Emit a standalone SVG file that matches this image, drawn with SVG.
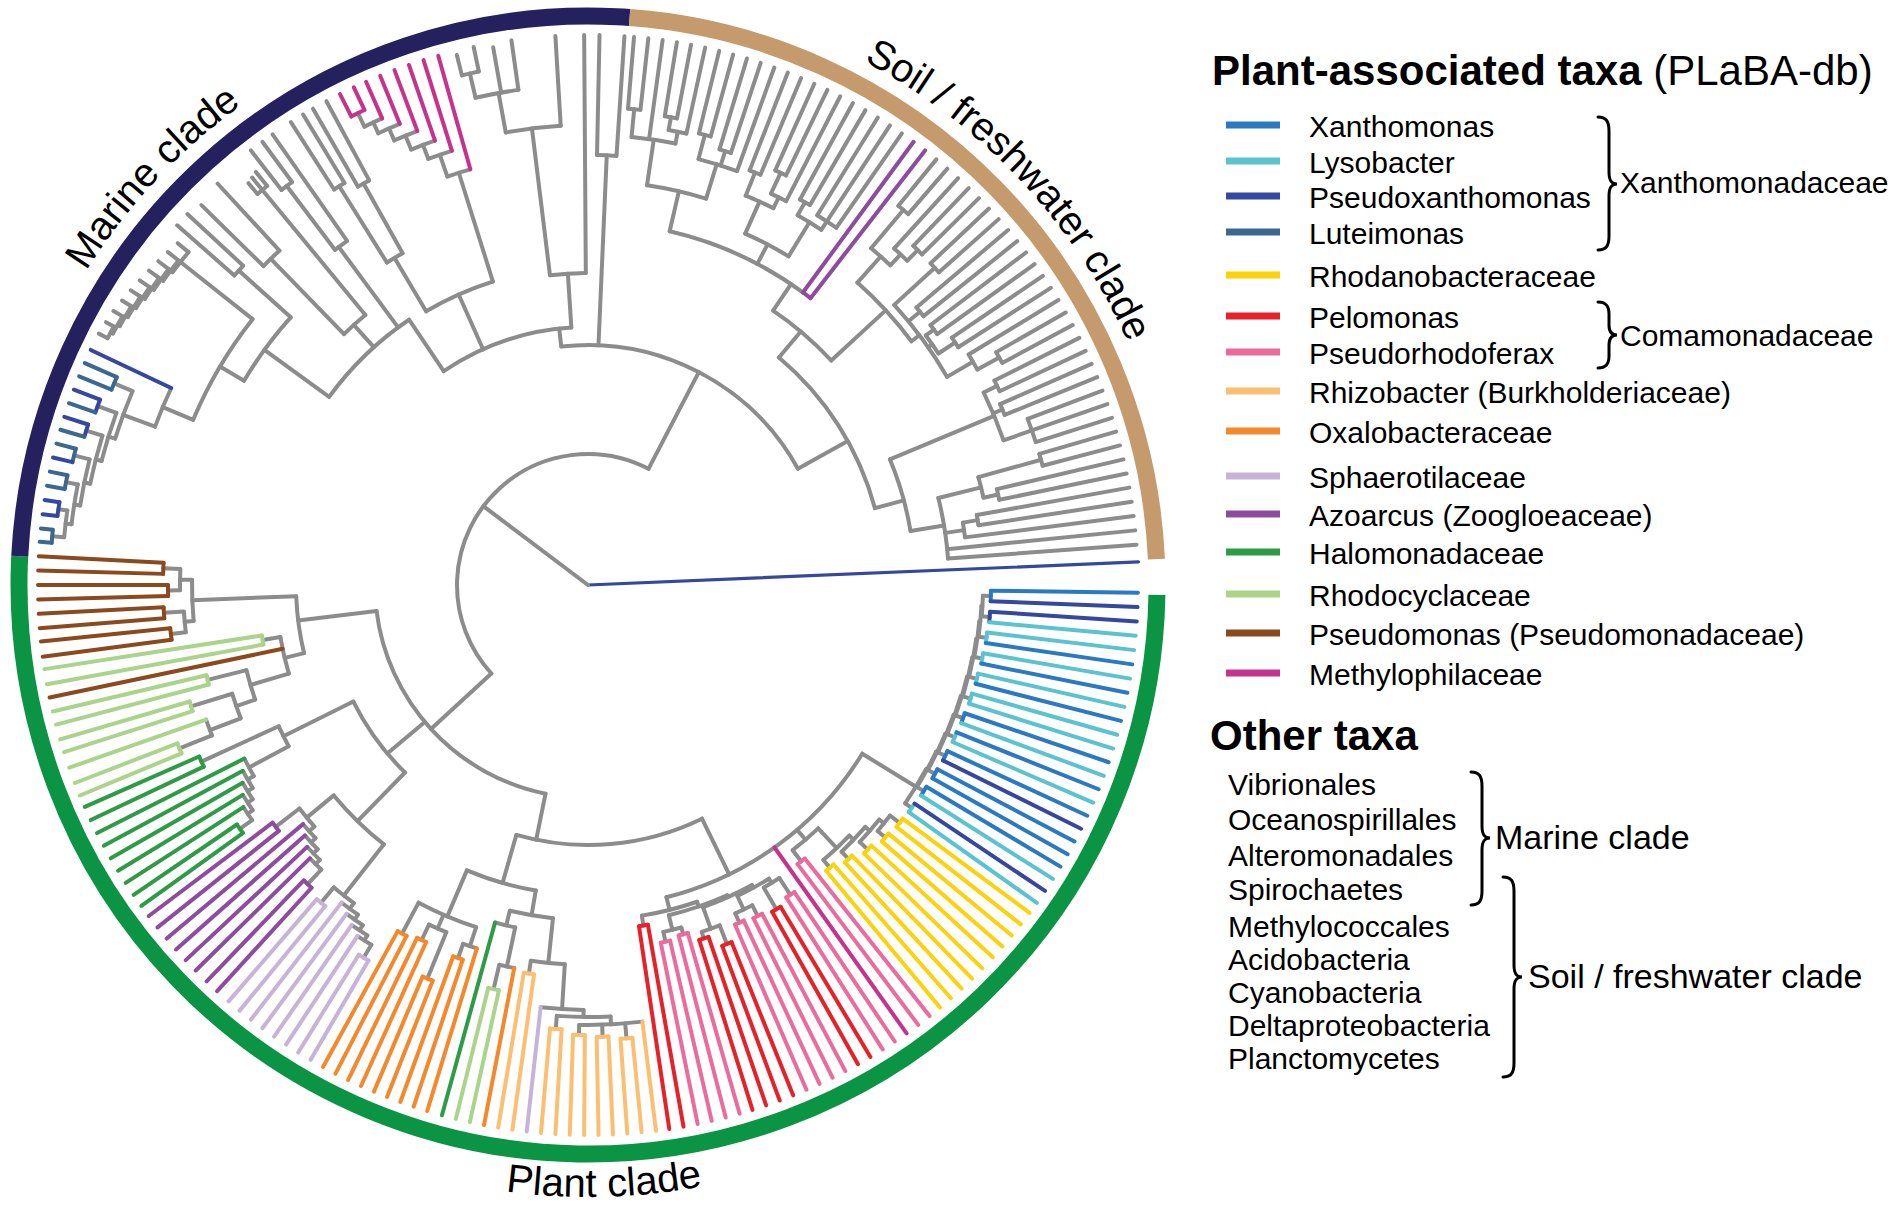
<svg xmlns="http://www.w3.org/2000/svg" width="1902" height="1218" viewBox="0 0 1902 1218">
<style>
text{font-family:"Liberation Sans",Arial,Helvetica,sans-serif;fill:#000}
.xa{stroke:#2a7ac3}.ly{stroke:#59c3d2}.px{stroke:#34489f}.lu{stroke:#3b6891}.rh{stroke:#fcd20b}.pe{stroke:#e7212a}.pr{stroke:#ec6b9d}.rz{stroke:#fcbf71}.ox{stroke:#f4882a}.sp{stroke:#c7b3d8}.az{stroke:#8e4c9e}.ha{stroke:#2e9c47}.rc{stroke:#a9d48a}.ps{stroke:#8b4a1e}.me{stroke:#c5338f}
.lg{font-size:30px}.hd{font-size:42px}.cl{font-size:40px}.bk{font-size:34px}
.brace{fill:none;stroke:#000;stroke-width:3;stroke-linecap:round}
</style>
<rect width="1902" height="1218" fill="#fff"/>
<defs>
<path id="cw" d="M592 0A592 592 0 1 1 -592 0A592 592 0 1 1 592 0"/>
<path id="ccw" d="M612 0A612 612 0 1 0 -612 0A612 612 0 1 0 612 0"/>
</defs>

<g id="ring" transform="translate(588,585)" fill="none" stroke-width="17">
<circle r="569" stroke="#0b9444" pathLength="360" stroke-dasharray="181.9 999" transform="rotate(1)"/>
<circle r="569" stroke="#25215f" pathLength="360" stroke-dasharray="91.3 999" transform="rotate(182.9)"/>
<circle r="569" stroke="#c59a6d" pathLength="360" stroke-dasharray="83.2 999" transform="rotate(274.2)"/>
</g>

<g id="tree" transform="translate(588,585)" fill="none" stroke="#8c8c8c" stroke-width="4" stroke-linecap="round">
<g id="root">
<line class="px" x1="0" x2="551" transform="rotate(-2.4)" stroke-width="3.2"/>
<line x1="0" x2="131" transform="rotate(217)"/>
<circle r="131" pathLength="360" stroke-dasharray="160 999" transform="rotate(137.5)"/>
</g>

<g id="plant-clade">
<line x1="131" x2="213" transform="rotate(137.5)"/>
<circle r="213" pathLength="360" stroke-dasharray="71.5 999" transform="rotate(101.5)"/>
<g id="pseudomonas-group">
<line x1="213" x2="292" transform="rotate(173)"/>
<circle r="292" pathLength="360" stroke-dasharray="11.3 999" transform="rotate(166.5)"/>
<line x1="292" x2="396" transform="rotate(177.8)"/>
<circle r="396" pathLength="360" stroke-dasharray="5.95 999" transform="rotate(174.8)"/>
<line x1="396" x2="408" transform="rotate(180.75)"/>
<circle r="408" pathLength="360" stroke-dasharray="3 999" transform="rotate(179.25)"/>
<line x1="408" x2="425" transform="rotate(182.25)"/>
<circle class="ps" r="425" pathLength="360" stroke-dasharray="1.5 999" transform="rotate(181.5)"/>
<line class="ps" x1="425" x2="550" transform="rotate(183)"/>
<line class="ps" x1="425" x2="550" transform="rotate(181.5)"/>
<line x1="408" x2="420" transform="rotate(179.25)"/>
<circle class="ps" r="420" pathLength="360" stroke-dasharray="1.5 999" transform="rotate(178.5)"/>
<line class="ps" x1="420" x2="550" transform="rotate(180)"/>
<line class="ps" x1="420" x2="550" transform="rotate(178.5)"/>
<line x1="396" x2="405" transform="rotate(174.8)"/>
<circle r="405" pathLength="360" stroke-dasharray="2.95 999" transform="rotate(173.3)"/>
<line x1="405" x2="425" transform="rotate(176.25)"/>
<circle class="ps" r="425" pathLength="360" stroke-dasharray="1.5 999" transform="rotate(175.5)"/>
<line class="ps" x1="425" x2="550" transform="rotate(177)"/>
<line class="ps" x1="425" x2="550" transform="rotate(175.5)"/>
<line x1="405" x2="420" transform="rotate(173.3)"/>
<circle class="ps" r="420" pathLength="360" stroke-dasharray="1.6 999" transform="rotate(172.5)"/>
<line class="ps" x1="420" x2="550" transform="rotate(174.1)"/>
<line class="ps" x1="420" x2="550" transform="rotate(172.5)"/>
<line x1="292" x2="312" transform="rotate(166.5)"/>
<circle r="312" pathLength="360" stroke-dasharray="6.9 999" transform="rotate(163.5)"/>
<line x1="312" x2="330" transform="rotate(170.4)"/>
<circle class="rc" r="330" pathLength="360" stroke-dasharray="1.6 999" transform="rotate(169.6)"/>
<line class="rc" x1="330" x2="550" transform="rotate(171.2)"/>
<line class="rc" x1="330" x2="550" transform="rotate(169.6)"/>
<line class="ps" x1="312" x2="550" transform="rotate(168.2)"/>
<line x1="312" x2="352" transform="rotate(163.5)"/>
<circle r="352" pathLength="360" stroke-dasharray="5 999" transform="rotate(161)"/>
<line x1="352" x2="392" transform="rotate(166)"/>
<circle class="rc" r="392" pathLength="360" stroke-dasharray="1.4 999" transform="rotate(165.3)"/>
<line class="rc" x1="392" x2="550" transform="rotate(166.7)"/>
<line class="rc" x1="392" x2="550" transform="rotate(165.3)"/>
<line x1="352" x2="372" transform="rotate(161)"/>
<circle r="372" pathLength="360" stroke-dasharray="4 999" transform="rotate(159)"/>
<line x1="372" x2="415" transform="rotate(163)"/>
<circle class="rc" r="415" pathLength="360" stroke-dasharray="1.4 999" transform="rotate(162.3)"/>
<line class="rc" x1="415" x2="550" transform="rotate(163.7)"/>
<line class="rc" x1="415" x2="550" transform="rotate(162.3)"/>
<line x1="372" x2="405" transform="rotate(159)"/>
<circle r="405" pathLength="360" stroke-dasharray="2.4 999" transform="rotate(158.2)"/>
<line class="rc" x1="405" x2="550" transform="rotate(160.6)"/>
<line x1="405" x2="440" transform="rotate(158.2)"/>
<circle class="rc" r="440" pathLength="360" stroke-dasharray="1.4 999" transform="rotate(157.5)"/>
<line class="rc" x1="440" x2="550" transform="rotate(158.9)"/>
<line class="rc" x1="440" x2="550" transform="rotate(157.5)"/>
</g>

<g id="halomonad-azoarcus-group">
<line x1="213" x2="262" transform="rotate(140)"/>
<circle r="262" pathLength="360" stroke-dasharray="19.3 999" transform="rotate(134.3)"/>
<line x1="262" x2="330" transform="rotate(134.3)"/>
<circle r="330" pathLength="360" stroke-dasharray="12.2 999" transform="rotate(128.2)"/>
<line x1="330" x2="365" transform="rotate(140.4)"/>
<circle r="365" pathLength="360" stroke-dasharray="3.7 999" transform="rotate(138.55)"/>
<line x1="365" x2="395" transform="rotate(142.25)"/>
<circle class="az" r="395" pathLength="360" stroke-dasharray="1.5 999" transform="rotate(141.5)"/>
<line class="az" x1="395" x2="550" transform="rotate(143)"/>
<line class="az" x1="395" x2="550" transform="rotate(141.5)"/>
<line x1="365" x2="372" transform="rotate(138.55)"/>
<circle r="372" pathLength="360" stroke-dasharray="2.9 999" transform="rotate(137.1)"/>
<line class="az" x1="372" x2="550" transform="rotate(140)"/>
<line x1="372" x2="378" transform="rotate(137.1)"/>
<circle r="378" pathLength="360" stroke-dasharray="2.85 999" transform="rotate(135.65)"/>
<line class="az" x1="378" x2="550" transform="rotate(138.5)"/>
<line x1="378" x2="384" transform="rotate(135.65)"/>
<circle r="384" pathLength="360" stroke-dasharray="2.7 999" transform="rotate(134.3)"/>
<line class="az" x1="384" x2="550" transform="rotate(137)"/>
<line x1="384" x2="390" transform="rotate(134.3)"/>
<circle r="390" pathLength="360" stroke-dasharray="2.35 999" transform="rotate(133.15)"/>
<line class="az" x1="390" x2="550" transform="rotate(135.5)"/>
<line x1="390" x2="410" transform="rotate(133.15)"/>
<circle class="az" r="410" pathLength="360" stroke-dasharray="1.5 999" transform="rotate(132.4)"/>
<line class="az" x1="410" x2="550" transform="rotate(133.9)"/>
<line class="az" x1="410" x2="550" transform="rotate(132.4)"/>
<line x1="330" x2="395" transform="rotate(128.2)"/>
<circle r="395" pathLength="360" stroke-dasharray="3.7 999" transform="rotate(126.35)"/>
<line x1="395" x2="415" transform="rotate(130.05)"/>
<circle class="sp" r="415" pathLength="360" stroke-dasharray="1.5 999" transform="rotate(129.3)"/>
<line class="sp" x1="415" x2="550" transform="rotate(130.8)"/>
<line class="sp" x1="415" x2="550" transform="rotate(129.3)"/>
<line x1="395" x2="402" transform="rotate(126.35)"/>
<circle r="402" pathLength="360" stroke-dasharray="2.9 999" transform="rotate(124.9)"/>
<line class="sp" x1="402" x2="550" transform="rotate(127.8)"/>
<line x1="402" x2="408" transform="rotate(124.9)"/>
<circle r="408" pathLength="360" stroke-dasharray="2.8 999" transform="rotate(123.5)"/>
<line class="sp" x1="408" x2="550" transform="rotate(126.3)"/>
<line x1="408" x2="414" transform="rotate(123.5)"/>
<circle r="414" pathLength="360" stroke-dasharray="2.6 999" transform="rotate(122.2)"/>
<line class="sp" x1="414" x2="550" transform="rotate(124.8)"/>
<line x1="414" x2="420" transform="rotate(122.2)"/>
<circle r="420" pathLength="360" stroke-dasharray="2.25 999" transform="rotate(121.05)"/>
<line class="sp" x1="420" x2="550" transform="rotate(123.3)"/>
<line x1="420" x2="435" transform="rotate(121.05)"/>
<circle class="sp" r="435" pathLength="360" stroke-dasharray="1.5 999" transform="rotate(120.3)"/>
<line class="sp" x1="435" x2="550" transform="rotate(121.8)"/>
<line class="sp" x1="435" x2="550" transform="rotate(120.3)"/>
<line x1="262" x2="340" transform="rotate(153.6)"/>
<circle r="340" pathLength="360" stroke-dasharray="3.75 999" transform="rotate(151.7)"/>
<line x1="340" x2="425" transform="rotate(155.45)"/>
<circle class="ha" r="425" pathLength="360" stroke-dasharray="1.5 999" transform="rotate(154.7)"/>
<line class="ha" x1="425" x2="550" transform="rotate(156.2)"/>
<line class="ha" x1="425" x2="550" transform="rotate(154.7)"/>
<line x1="340" x2="385" transform="rotate(151.7)"/>
<circle r="385" pathLength="360" stroke-dasharray="2.95 999" transform="rotate(150.25)"/>
<line class="ha" x1="385" x2="550" transform="rotate(153.2)"/>
<line x1="385" x2="392" transform="rotate(150.25)"/>
<circle r="392" pathLength="360" stroke-dasharray="2.9 999" transform="rotate(148.8)"/>
<line class="ha" x1="392" x2="550" transform="rotate(151.7)"/>
<line x1="392" x2="398" transform="rotate(148.8)"/>
<circle r="398" pathLength="360" stroke-dasharray="2.8 999" transform="rotate(147.4)"/>
<line class="ha" x1="398" x2="550" transform="rotate(150.2)"/>
<line x1="398" x2="404" transform="rotate(147.4)"/>
<circle r="404" pathLength="360" stroke-dasharray="2.6 999" transform="rotate(146.1)"/>
<line class="ha" x1="404" x2="550" transform="rotate(148.7)"/>
<line x1="404" x2="410" transform="rotate(146.1)"/>
<circle r="410" pathLength="360" stroke-dasharray="2.2 999" transform="rotate(145)"/>
<line class="ha" x1="410" x2="550" transform="rotate(147.2)"/>
<line x1="410" x2="425" transform="rotate(145)"/>
<circle class="ha" r="425" pathLength="360" stroke-dasharray="1.4 999" transform="rotate(144.3)"/>
<line class="ha" x1="425" x2="550" transform="rotate(145.7)"/>
<line class="ha" x1="425" x2="550" transform="rotate(144.3)"/>
</g>

<g id="burkholderiales-xanthomonadales-group">
<line x1="213" x2="260" transform="rotate(101.5)"/>
<circle r="260" pathLength="360" stroke-dasharray="42 999" transform="rotate(64)"/>
<line x1="260" x2="310" transform="rotate(106)"/>
<circle r="310" pathLength="360" stroke-dasharray="13.3 999" transform="rotate(99.7)"/>
<line x1="310" x2="360" transform="rotate(113)"/>
<circle r="360" pathLength="360" stroke-dasharray="9.97 999" transform="rotate(108.1)"/>
<line x1="360" x2="395" transform="rotate(118.07)"/>
<circle class="ox" r="395" pathLength="360" stroke-dasharray="1.47 999" transform="rotate(117.33)"/>
<line class="ox" x1="395" x2="550" transform="rotate(118.8)"/>
<line class="ox" x1="395" x2="550" transform="rotate(117.33)"/>
<line x1="360" x2="375" transform="rotate(113.65)"/>
<circle r="375" pathLength="360" stroke-dasharray="2.9 999" transform="rotate(112.2)"/>
<line x1="375" x2="392" transform="rotate(115.1)"/>
<circle class="ox" r="392" pathLength="360" stroke-dasharray="1.47 999" transform="rotate(114.38)"/>
<line class="ox" x1="392" x2="550" transform="rotate(115.85)"/>
<line class="ox" x1="392" x2="550" transform="rotate(114.38)"/>
<line x1="375" x2="425" transform="rotate(112.2)"/>
<circle class="ox" r="425" pathLength="360" stroke-dasharray="1.47 999" transform="rotate(111.43)"/>
<line class="ox" x1="425" x2="550" transform="rotate(112.9)"/>
<line class="ox" x1="425" x2="550" transform="rotate(111.43)"/>
<line x1="360" x2="380" transform="rotate(108.1)"/>
<circle r="380" pathLength="360" stroke-dasharray="2.2 999" transform="rotate(107)"/>
<line x1="380" x2="395" transform="rotate(109.2)"/>
<circle class="ox" r="395" pathLength="360" stroke-dasharray="1.47 999" transform="rotate(108.48)"/>
<line class="ox" x1="395" x2="550" transform="rotate(109.95)"/>
<line class="ox" x1="395" x2="550" transform="rotate(108.48)"/>
<line class="ox" x1="380" x2="550" transform="rotate(107)"/>
<line x1="310" x2="335" transform="rotate(99.7)"/>
<circle r="335" pathLength="360" stroke-dasharray="7.5 999" transform="rotate(96)"/>
<line x1="335" x2="350" transform="rotate(103.5)"/>
<circle r="350" pathLength="360" stroke-dasharray="3.4 999" transform="rotate(102)"/>
<line class="ha" x1="350" x2="550" transform="rotate(105.4)"/>
<line x1="350" x2="390" transform="rotate(102)"/>
<circle r="390" pathLength="360" stroke-dasharray="2.25 999" transform="rotate(100.9)"/>
<line x1="390" x2="415" transform="rotate(103.15)"/>
<circle class="rc" r="415" pathLength="360" stroke-dasharray="1.5 999" transform="rotate(102.4)"/>
<line class="rc" x1="415" x2="550" transform="rotate(103.9)"/>
<line class="rc" x1="415" x2="550" transform="rotate(102.4)"/>
<line class="ox" x1="390" x2="550" transform="rotate(100.9)"/>
<line x1="335" x2="380" transform="rotate(96)"/>
<circle r="380" pathLength="360" stroke-dasharray="5.15 999" transform="rotate(93.5)"/>
<line x1="380" x2="393" transform="rotate(98.65)"/>
<circle class="rz" r="393" pathLength="360" stroke-dasharray="1.5 999" transform="rotate(97.9)"/>
<line class="rz" x1="393" x2="550" transform="rotate(99.4)"/>
<line class="rz" x1="393" x2="550" transform="rotate(97.9)"/>
<line x1="380" x2="425" transform="rotate(93.5)"/>
<circle r="425" pathLength="360" stroke-dasharray="5.8 999" transform="rotate(90.6)"/>
<line class="sp" x1="425" x2="550" transform="rotate(96.4)"/>
<line x1="425" x2="432" transform="rotate(90.6)"/>
<circle r="432" pathLength="360" stroke-dasharray="7.15 999" transform="rotate(87)"/>
<line x1="432" x2="445" transform="rotate(94.15)"/>
<circle class="rz" r="445" pathLength="360" stroke-dasharray="1.5 999" transform="rotate(93.4)"/>
<line class="rz" x1="445" x2="550" transform="rotate(94.9)"/>
<line class="rz" x1="445" x2="550" transform="rotate(93.4)"/>
<line x1="432" x2="440" transform="rotate(87)"/>
<circle r="440" pathLength="360" stroke-dasharray="8.25 999" transform="rotate(82.9)"/>
<line x1="440" x2="450" transform="rotate(91.15)"/>
<circle class="rz" r="450" pathLength="360" stroke-dasharray="1.5 999" transform="rotate(90.4)"/>
<line class="rz" x1="450" x2="550" transform="rotate(91.9)"/>
<line class="rz" x1="450" x2="550" transform="rotate(90.4)"/>
<line x1="440" x2="452" transform="rotate(88.15)"/>
<circle class="rz" r="452" pathLength="360" stroke-dasharray="1.5 999" transform="rotate(87.4)"/>
<line class="rz" x1="452" x2="550" transform="rotate(88.9)"/>
<line class="rz" x1="452" x2="550" transform="rotate(87.4)"/>
<line x1="440" x2="455" transform="rotate(85.15)"/>
<circle class="rz" r="455" pathLength="360" stroke-dasharray="1.5 999" transform="rotate(84.4)"/>
<line class="rz" x1="455" x2="550" transform="rotate(85.9)"/>
<line class="rz" x1="455" x2="550" transform="rotate(84.4)"/>
<line class="rz" x1="440" x2="550" transform="rotate(82.9)"/>

<line x1="260" x2="322" transform="rotate(64)"/>
<circle r="322" pathLength="360" stroke-dasharray="44.3 999" transform="rotate(31.6)"/>
<line x1="322" x2="335" transform="rotate(75.9)"/>
<circle r="335" pathLength="360" stroke-dasharray="9.75 999" transform="rotate(71)"/>
<line x1="335" x2="345" transform="rotate(80.75)"/>
<circle class="pe" r="345" pathLength="360" stroke-dasharray="1.5 999" transform="rotate(80)"/>
<line class="pe" x1="345" x2="550" transform="rotate(81.5)"/>
<line class="pe" x1="345" x2="550" transform="rotate(80)"/>
<line x1="335" x2="340" transform="rotate(71)"/>
<circle r="340" pathLength="360" stroke-dasharray="10.4 999" transform="rotate(65.85)"/>
<line x1="340" x2="355" transform="rotate(76.25)"/>
<circle r="355" pathLength="360" stroke-dasharray="3 999" transform="rotate(74.75)"/>
<line x1="355" x2="365" transform="rotate(77.75)"/>
<circle class="pr" r="365" pathLength="360" stroke-dasharray="1.5 999" transform="rotate(77)"/>
<line class="pr" x1="365" x2="550" transform="rotate(78.5)"/>
<line class="pr" x1="365" x2="550" transform="rotate(77)"/>
<line x1="355" x2="362" transform="rotate(74.75)"/>
<circle class="pr" r="362" pathLength="360" stroke-dasharray="1.5 999" transform="rotate(74)"/>
<line class="pr" x1="362" x2="550" transform="rotate(75.5)"/>
<line class="pr" x1="362" x2="550" transform="rotate(74)"/>
<line x1="340" x2="342" transform="rotate(65.85)"/>
<circle r="342" pathLength="360" stroke-dasharray="9 999" transform="rotate(61.35)"/>
<line x1="342" x2="365" transform="rotate(70.35)"/>
<circle r="365" pathLength="360" stroke-dasharray="3 999" transform="rotate(68.85)"/>
<line x1="365" x2="372" transform="rotate(71.85)"/>
<circle class="pe" r="372" pathLength="360" stroke-dasharray="1.5 999" transform="rotate(71.1)"/>
<line class="pe" x1="372" x2="550" transform="rotate(72.6)"/>
<line class="pe" x1="372" x2="550" transform="rotate(71.1)"/>
<line x1="365" x2="385" transform="rotate(68.85)"/>
<circle class="pe" r="385" pathLength="360" stroke-dasharray="1.5 999" transform="rotate(68.1)"/>
<line class="pe" x1="385" x2="550" transform="rotate(69.6)"/>
<line class="pe" x1="385" x2="550" transform="rotate(68.1)"/>
<line x1="342" x2="345" transform="rotate(61.35)"/>
<circle r="345" pathLength="360" stroke-dasharray="6 999" transform="rotate(58.35)"/>
<line x1="345" x2="360" transform="rotate(64.35)"/>
<circle r="360" pathLength="360" stroke-dasharray="3 999" transform="rotate(62.85)"/>
<line x1="360" x2="370" transform="rotate(65.85)"/>
<circle class="pr" r="370" pathLength="360" stroke-dasharray="1.5 999" transform="rotate(65.1)"/>
<line class="pr" x1="370" x2="550" transform="rotate(66.6)"/>
<line class="pr" x1="370" x2="550" transform="rotate(65.1)"/>
<line x1="360" x2="372" transform="rotate(62.85)"/>
<circle class="pr" r="372" pathLength="360" stroke-dasharray="1.5 999" transform="rotate(62.1)"/>
<line class="pr" x1="372" x2="550" transform="rotate(63.6)"/>
<line class="pr" x1="372" x2="550" transform="rotate(62.1)"/>
<line x1="345" x2="350" transform="rotate(58.35)"/>
<circle r="350" pathLength="360" stroke-dasharray="3 999" transform="rotate(56.85)"/>
<line x1="350" x2="375" transform="rotate(59.85)"/>
<circle class="pe" r="375" pathLength="360" stroke-dasharray="1.5 999" transform="rotate(59.1)"/>
<line class="pe" x1="375" x2="550" transform="rotate(60.6)"/>
<line class="pe" x1="375" x2="550" transform="rotate(59.1)"/>
<line x1="350" x2="370" transform="rotate(56.85)"/>
<circle class="pr" r="370" pathLength="360" stroke-dasharray="1.5 999" transform="rotate(56.1)"/>
<line class="pr" x1="370" x2="550" transform="rotate(57.6)"/>
<line class="pr" x1="370" x2="550" transform="rotate(56.1)"/>
<line class="me" x1="322" x2="550" transform="rotate(54.6)"/>
<line x1="322" x2="335" transform="rotate(49.5)"/>
<circle r="335" pathLength="360" stroke-dasharray="5.75 999" transform="rotate(46.6)"/>
<line x1="335" x2="349" transform="rotate(52.35)"/>
<circle class="pr" r="349" pathLength="360" stroke-dasharray="1.5 999" transform="rotate(51.6)"/>
<line class="pr" x1="349" x2="550" transform="rotate(53.1)"/>
<line class="pr" x1="349" x2="550" transform="rotate(51.6)"/>
<line x1="335" x2="362" transform="rotate(46.6)"/>
<circle r="362" pathLength="360" stroke-dasharray="5.65 999" transform="rotate(43.8)"/>
<line x1="362" x2="372" transform="rotate(49.45)"/>
<circle class="rh" r="372" pathLength="360" stroke-dasharray="1.5 999" transform="rotate(48.7)"/>
<line class="rh" x1="372" x2="550" transform="rotate(50.2)"/>
<line class="rh" x1="372" x2="550" transform="rotate(48.7)"/>
<line x1="362" x2="368" transform="rotate(43.8)"/>
<circle r="368" pathLength="360" stroke-dasharray="5.35 999" transform="rotate(41.1)"/>
<line x1="368" x2="378" transform="rotate(46.45)"/>
<circle class="rh" r="378" pathLength="360" stroke-dasharray="1.5 999" transform="rotate(45.7)"/>
<line class="rh" x1="378" x2="550" transform="rotate(47.2)"/>
<line class="rh" x1="378" x2="550" transform="rotate(45.7)"/>
<line x1="368" x2="374" transform="rotate(41.1)"/>
<circle r="374" pathLength="360" stroke-dasharray="4.55 999" transform="rotate(38.85)"/>
<line x1="374" x2="385" transform="rotate(43.4)"/>
<circle class="rh" r="385" pathLength="360" stroke-dasharray="1.6 999" transform="rotate(42.6)"/>
<line class="rh" x1="385" x2="550" transform="rotate(44.2)"/>
<line class="rh" x1="385" x2="550" transform="rotate(42.6)"/>
<line x1="374" x2="380" transform="rotate(38.85)"/>
<circle r="380" pathLength="360" stroke-dasharray="3 999" transform="rotate(37.35)"/>
<line x1="380" x2="390" transform="rotate(40.35)"/>
<circle class="rh" r="390" pathLength="360" stroke-dasharray="1.5 999" transform="rotate(39.6)"/>
<line class="rh" x1="390" x2="550" transform="rotate(41.1)"/>
<line class="rh" x1="390" x2="550" transform="rotate(39.6)"/>
<line x1="380" x2="392" transform="rotate(37.35)"/>
<circle class="rh" r="392" pathLength="360" stroke-dasharray="1.5 999" transform="rotate(36.6)"/>
<line class="rh" x1="392" x2="550" transform="rotate(38.1)"/>
<line class="rh" x1="392" x2="550" transform="rotate(36.6)"/>

<line x1="322" x2="385" transform="rotate(31.6)"/>
<circle r="385" pathLength="360" stroke-dasharray="5.95 999" transform="rotate(28.6)"/>
<line x1="385" x2="393" transform="rotate(34.55)"/>
<circle class="ly" r="393" pathLength="360" stroke-dasharray="1.5 999" transform="rotate(33.8)"/>
<line class="ly" x1="393" x2="550" transform="rotate(35.3)"/>
<line class="px" x1="393" x2="550" transform="rotate(33.8)"/>
<line x1="385" x2="386" transform="rotate(28.6)"/>
<circle r="386" pathLength="360" stroke-dasharray="5.95 999" transform="rotate(25.6)"/>
<line x1="386" x2="394" transform="rotate(31.55)"/>
<circle class="xa" r="394" pathLength="360" stroke-dasharray="1.5 999" transform="rotate(30.8)"/>
<line class="ly" x1="394" x2="550" transform="rotate(32.3)"/>
<line class="xa" x1="394" x2="550" transform="rotate(30.8)"/>
<line x1="386" x2="387" transform="rotate(25.6)"/>
<circle r="387" pathLength="360" stroke-dasharray="5.95 999" transform="rotate(22.6)"/>
<line x1="387" x2="395" transform="rotate(28.55)"/>
<circle class="xa" r="395" pathLength="360" stroke-dasharray="1.5 999" transform="rotate(27.8)"/>
<line class="xa" x1="395" x2="550" transform="rotate(29.3)"/>
<line class="xa" x1="395" x2="550" transform="rotate(27.8)"/>
<line x1="387" x2="388" transform="rotate(22.6)"/>
<circle r="388" pathLength="360" stroke-dasharray="5.95 999" transform="rotate(19.6)"/>
<line x1="388" x2="396" transform="rotate(25.55)"/>
<circle class="xa" r="396" pathLength="360" stroke-dasharray="1.5 999" transform="rotate(24.8)"/>
<line class="px" x1="396" x2="550" transform="rotate(26.3)"/>
<line class="xa" x1="396" x2="550" transform="rotate(24.8)"/>
<line x1="388" x2="389" transform="rotate(19.6)"/>
<circle r="389" pathLength="360" stroke-dasharray="5.95 999" transform="rotate(16.6)"/>
<line x1="389" x2="397" transform="rotate(22.55)"/>
<circle class="ly" r="397" pathLength="360" stroke-dasharray="1.5 999" transform="rotate(21.8)"/>
<line class="ly" x1="397" x2="550" transform="rotate(23.3)"/>
<line class="xa" x1="397" x2="550" transform="rotate(21.8)"/>
<line x1="389" x2="390" transform="rotate(16.6)"/>
<circle r="390" pathLength="360" stroke-dasharray="5.95 999" transform="rotate(13.6)"/>
<line x1="390" x2="398" transform="rotate(19.55)"/>
<circle class="xa" r="398" pathLength="360" stroke-dasharray="1.5 999" transform="rotate(18.8)"/>
<line class="ly" x1="398" x2="550" transform="rotate(20.3)"/>
<line class="xa" x1="398" x2="550" transform="rotate(18.8)"/>
<line x1="390" x2="391" transform="rotate(13.6)"/>
<circle r="391" pathLength="360" stroke-dasharray="5.85 999" transform="rotate(10.7)"/>
<line x1="391" x2="399" transform="rotate(16.55)"/>
<circle class="ly" r="399" pathLength="360" stroke-dasharray="1.5 999" transform="rotate(15.8)"/>
<line class="ly" x1="399" x2="550" transform="rotate(17.3)"/>
<line class="ly" x1="399" x2="550" transform="rotate(15.8)"/>
<line x1="391" x2="392" transform="rotate(10.7)"/>
<circle r="392" pathLength="360" stroke-dasharray="5.65 999" transform="rotate(7.9)"/>
<line x1="392" x2="400" transform="rotate(13.55)"/>
<circle class="ly" r="400" pathLength="360" stroke-dasharray="1.5 999" transform="rotate(12.8)"/>
<line class="xa" x1="400" x2="550" transform="rotate(14.3)"/>
<line class="ly" x1="400" x2="550" transform="rotate(12.8)"/>
<line x1="392" x2="393" transform="rotate(7.9)"/>
<circle r="393" pathLength="360" stroke-dasharray="5.25 999" transform="rotate(5.3)"/>
<line x1="393" x2="401" transform="rotate(10.55)"/>
<circle class="ly" r="401" pathLength="360" stroke-dasharray="1.5 999" transform="rotate(9.8)"/>
<line class="xa" x1="401" x2="550" transform="rotate(11.3)"/>
<line class="ly" x1="401" x2="550" transform="rotate(9.8)"/>
<line x1="393" x2="394" transform="rotate(5.3)"/>
<circle r="394" pathLength="360" stroke-dasharray="4.5 999" transform="rotate(3.05)"/>
<line x1="394" x2="402" transform="rotate(7.55)"/>
<circle class="ly" r="402" pathLength="360" stroke-dasharray="1.5 999" transform="rotate(6.8)"/>
<line class="xa" x1="402" x2="550" transform="rotate(8.3)"/>
<line class="ly" x1="402" x2="550" transform="rotate(6.8)"/>
<line x1="394" x2="395" transform="rotate(3.05)"/>
<circle r="395" pathLength="360" stroke-dasharray="3 999" transform="rotate(1.55)"/>
<line x1="395" x2="403" transform="rotate(4.55)"/>
<circle class="px" r="403" pathLength="360" stroke-dasharray="1.5 999" transform="rotate(3.8)"/>
<line class="ly" x1="403" x2="550" transform="rotate(5.3)"/>
<line class="px" x1="403" x2="550" transform="rotate(3.8)"/>
<line x1="395" x2="403" transform="rotate(1.55)"/>
<circle class="xa" r="403" pathLength="360" stroke-dasharray="1.5 999" transform="rotate(0.8)"/>
<line class="px" x1="403" x2="550" transform="rotate(2.3)"/>
<line class="xa" x1="403" x2="550" transform="rotate(0.8)"/>
</g>
</g>

<g id="marine-soil-clade">
<line x1="131" x2="240" transform="rotate(297.5)"/>
<circle r="240" pathLength="360" stroke-dasharray="67.4 999" transform="rotate(263.6)"/>
<g id="marine-clade">
<line x1="240" x2="430" transform="rotate(272.5)"/>
<circle r="430" pathLength="360" stroke-dasharray="2.6 999" transform="rotate(271.2)"/>
<line x1="430" x2="550" transform="rotate(273.8)"/>
<line x1="430" x2="550" transform="rotate(271.2)"/>
<line x1="240" x2="258" transform="rotate(263.6)"/>
<circle r="258" pathLength="360" stroke-dasharray="30.3 999" transform="rotate(236)"/>
<line x1="258" x2="312" transform="rotate(266.3)"/>
<circle r="312" pathLength="360" stroke-dasharray="6.6 999" transform="rotate(263)"/>
<line x1="312" x2="550" transform="rotate(269.6)"/>
<line x1="312" x2="460" transform="rotate(263)"/>
<circle r="460" pathLength="360" stroke-dasharray="6.9 999" transform="rotate(259.7)"/>
<line x1="460" x2="550" transform="rotate(266.6)"/>
<line x1="460" x2="500" transform="rotate(259.7)"/>
<circle r="500" pathLength="360" stroke-dasharray="5 999" transform="rotate(257)"/>
<line x1="500" x2="550" transform="rotate(262)"/>
<line x1="500" x2="546" transform="rotate(260)"/>
<line x1="500" x2="525" transform="rotate(257)"/>
<circle r="525" pathLength="360" stroke-dasharray="1.9 999" transform="rotate(256.1)"/>
<line x1="525" x2="550" transform="rotate(258)"/>
<line x1="525" x2="546" transform="rotate(256.1)"/>
<line x1="258" x2="318" transform="rotate(246)"/>
<circle r="318" pathLength="360" stroke-dasharray="13.2 999" transform="rotate(239.4)"/>
<line x1="318" x2="380" transform="rotate(239.4)"/>
<circle r="380" pathLength="360" stroke-dasharray="2.75 999" transform="rotate(238.05)"/>
<line x1="380" x2="460" transform="rotate(240.8)"/>
<circle r="460" pathLength="360" stroke-dasharray="1.6 999" transform="rotate(240)"/>
<line x1="460" x2="550" transform="rotate(241.6)"/>
<line x1="460" x2="550" transform="rotate(240)"/>
<line x1="380" x2="470" transform="rotate(238.05)"/>
<circle r="470" pathLength="360" stroke-dasharray="1.5 999" transform="rotate(237.3)"/>
<line x1="470" x2="550" transform="rotate(238.8)"/>
<line x1="470" x2="550" transform="rotate(237.3)"/>
<line x1="318" x2="432" transform="rotate(252.6)"/>
<circle r="432" pathLength="360" stroke-dasharray="3.2 999" transform="rotate(251)"/>
<line class="me" x1="432" x2="550" transform="rotate(254.2)"/>
<line x1="432" x2="455" transform="rotate(251)"/>
<circle r="455" pathLength="360" stroke-dasharray="3.15 999" transform="rotate(249.45)"/>
<line class="me" x1="455" x2="550" transform="rotate(252.6)"/>
<line x1="455" x2="470" transform="rotate(249.45)"/>
<circle r="470" pathLength="360" stroke-dasharray="3.1 999" transform="rotate(247.9)"/>
<line class="me" x1="470" x2="550" transform="rotate(251)"/>
<line x1="470" x2="485" transform="rotate(247.9)"/>
<circle r="485" pathLength="360" stroke-dasharray="2.95 999" transform="rotate(246.45)"/>
<line class="me" x1="485" x2="550" transform="rotate(249.4)"/>
<line x1="485" x2="498" transform="rotate(246.45)"/>
<circle r="498" pathLength="360" stroke-dasharray="2.7 999" transform="rotate(245.1)"/>
<line class="me" x1="498" x2="550" transform="rotate(247.8)"/>
<line x1="498" x2="510" transform="rotate(245.1)"/>
<circle r="510" pathLength="360" stroke-dasharray="2.2 999" transform="rotate(244)"/>
<line class="me" x1="510" x2="550" transform="rotate(246.2)"/>
<line x1="510" x2="525" transform="rotate(244)"/>
<circle class="me" r="525" pathLength="360" stroke-dasharray="1.6 999" transform="rotate(243.2)"/>
<line class="me" x1="525" x2="550" transform="rotate(244.8)"/>
<line class="me" x1="525" x2="550" transform="rotate(243.2)"/>
<line x1="258" x2="320" transform="rotate(236)"/>
<circle r="320" pathLength="360" stroke-dasharray="20 999" transform="rotate(216)"/>
<line x1="320" x2="420" transform="rotate(233.6)"/>
<circle r="420" pathLength="360" stroke-dasharray="2.05 999" transform="rotate(232.95)"/>
<line x1="420" x2="550" transform="rotate(235)"/>
<line x1="420" x2="500" transform="rotate(232.95)"/>
<circle r="500" pathLength="360" stroke-dasharray="1.5 999" transform="rotate(232.2)"/>
<line x1="500" x2="550" transform="rotate(233.7)"/>
<line x1="500" x2="550" transform="rotate(232.2)"/>
<line x1="320" x2="350" transform="rotate(228)"/>
<circle r="350" pathLength="360" stroke-dasharray="4.7 999" transform="rotate(225.8)"/>
<line x1="350" x2="512" transform="rotate(230.5)"/>
<circle r="512" pathLength="360" stroke-dasharray="1.4 999" transform="rotate(229.8)"/>
<line x1="512" x2="530" transform="rotate(231.2)"/>
<line x1="512" x2="528" transform="rotate(230.5)"/>
<line x1="512" x2="526" transform="rotate(229.8)"/>
<line x1="350" x2="455" transform="rotate(225.8)"/>
<circle r="455" pathLength="360" stroke-dasharray="2.8 999" transform="rotate(224.5)"/>
<line x1="455" x2="546" transform="rotate(227.3)"/>
<line x1="455" x2="542" transform="rotate(224.5)"/>
<line x1="320" x2="400" transform="rotate(216)"/>
<circle r="400" pathLength="360" stroke-dasharray="11.3 999" transform="rotate(210.7)"/>
<line x1="400" x2="470" transform="rotate(222)"/>
<circle r="470" pathLength="360" stroke-dasharray="1.6 999" transform="rotate(221.2)"/>
<line x1="470" x2="546" transform="rotate(222.8)"/>
<line x1="470" x2="546" transform="rotate(221.2)"/>
<line x1="400" x2="428" transform="rotate(210.7)"/>
<circle r="428" pathLength="360" stroke-dasharray="15.7 999" transform="rotate(202.7)"/>
<line x1="428" x2="520" transform="rotate(218.4)"/>
<circle r="520" pathLength="360" stroke-dasharray="2.8 999" transform="rotate(217)"/>
<line x1="520" x2="534" transform="rotate(219.8)"/>
<line x1="520" x2="522.5" transform="rotate(217)"/>
<circle r="522.5" pathLength="360" stroke-dasharray="2.8 999" transform="rotate(215.6)"/>
<line x1="522.5" x2="536" transform="rotate(218.4)"/>
<line x1="522.5" x2="525" transform="rotate(215.6)"/>
<circle r="525" pathLength="360" stroke-dasharray="2.8 999" transform="rotate(214.2)"/>
<line x1="525" x2="538" transform="rotate(217)"/>
<line x1="525" x2="527.5" transform="rotate(214.2)"/>
<circle r="527.5" pathLength="360" stroke-dasharray="2.75 999" transform="rotate(212.85)"/>
<line x1="527.5" x2="540" transform="rotate(215.6)"/>
<line x1="527.5" x2="530" transform="rotate(212.85)"/>
<circle r="530" pathLength="360" stroke-dasharray="2.7 999" transform="rotate(211.5)"/>
<line x1="530" x2="542" transform="rotate(214.2)"/>
<line x1="530" x2="532.5" transform="rotate(211.5)"/>
<circle r="532.5" pathLength="360" stroke-dasharray="2.6 999" transform="rotate(210.2)"/>
<line x1="532.5" x2="544" transform="rotate(212.8)"/>
<line x1="532.5" x2="535" transform="rotate(210.2)"/>
<circle r="535" pathLength="360" stroke-dasharray="2.45 999" transform="rotate(208.95)"/>
<line x1="535" x2="546" transform="rotate(211.4)"/>
<line x1="535" x2="537.5" transform="rotate(208.95)"/>
<circle r="537.5" pathLength="360" stroke-dasharray="2.1 999" transform="rotate(207.9)"/>
<line x1="537.5" x2="548" transform="rotate(210)"/>
<line x1="537.5" x2="540" transform="rotate(207.9)"/>
<circle r="540" pathLength="360" stroke-dasharray="1.4 999" transform="rotate(207.2)"/>
<line x1="540" x2="549" transform="rotate(208.6)"/>
<line x1="540" x2="550" transform="rotate(207.2)"/>
<line x1="428" x2="461" transform="rotate(202.7)"/>
<circle r="461" pathLength="360" stroke-dasharray="5.2 999" transform="rotate(200.1)"/>
<line class="px" x1="461" x2="550" transform="rotate(205.3)"/>
<line x1="461" x2="495" transform="rotate(200.1)"/>
<circle r="495" pathLength="360" stroke-dasharray="5.85 999" transform="rotate(197.2)"/>
<line x1="495" x2="515" transform="rotate(203.05)"/>
<circle class="lu" r="515" pathLength="360" stroke-dasharray="1.5 999" transform="rotate(202.3)"/>
<line class="lu" x1="515" x2="550" transform="rotate(203.8)"/>
<line class="lu" x1="515" x2="550" transform="rotate(202.3)"/>
<line x1="495" x2="502" transform="rotate(197.2)"/>
<circle r="502" pathLength="360" stroke-dasharray="5.75 999" transform="rotate(194.3)"/>
<line x1="502" x2="522" transform="rotate(200.05)"/>
<circle class="px" r="522" pathLength="360" stroke-dasharray="1.5 999" transform="rotate(199.3)"/>
<line class="px" x1="522" x2="550" transform="rotate(200.8)"/>
<line class="lu" x1="522" x2="550" transform="rotate(199.3)"/>
<line x1="502" x2="508" transform="rotate(194.3)"/>
<circle r="508" pathLength="360" stroke-dasharray="5.6 999" transform="rotate(191.5)"/>
<line x1="508" x2="525" transform="rotate(197.1)"/>
<circle class="px" r="525" pathLength="360" stroke-dasharray="1.4 999" transform="rotate(196.4)"/>
<line class="px" x1="525" x2="550" transform="rotate(197.8)"/>
<line class="lu" x1="525" x2="550" transform="rotate(196.4)"/>
<line x1="508" x2="514" transform="rotate(191.5)"/>
<circle r="514" pathLength="360" stroke-dasharray="5.25 999" transform="rotate(188.9)"/>
<line x1="514" x2="530" transform="rotate(194.15)"/>
<circle class="lu" r="530" pathLength="360" stroke-dasharray="1.5 999" transform="rotate(193.4)"/>
<line class="lu" x1="530" x2="550" transform="rotate(194.9)"/>
<line class="px" x1="530" x2="550" transform="rotate(193.4)"/>
<line x1="514" x2="520" transform="rotate(188.9)"/>
<circle r="520" pathLength="360" stroke-dasharray="4.45 999" transform="rotate(186.7)"/>
<line x1="520" x2="532" transform="rotate(191.15)"/>
<circle class="lu" r="532" pathLength="360" stroke-dasharray="1.5 999" transform="rotate(190.4)"/>
<line class="lu" x1="532" x2="550" transform="rotate(191.9)"/>
<line class="lu" x1="532" x2="550" transform="rotate(190.4)"/>
<line x1="520" x2="526" transform="rotate(186.7)"/>
<circle r="526" pathLength="360" stroke-dasharray="2.95 999" transform="rotate(185.2)"/>
<line x1="526" x2="535" transform="rotate(188.15)"/>
<circle class="px" r="535" pathLength="360" stroke-dasharray="1.5 999" transform="rotate(187.4)"/>
<line class="px" x1="535" x2="550" transform="rotate(188.9)"/>
<line class="px" x1="535" x2="550" transform="rotate(187.4)"/>
<line x1="526" x2="538" transform="rotate(185.2)"/>
<circle class="lu" r="538" pathLength="360" stroke-dasharray="1.4 999" transform="rotate(184.5)"/>
<line class="lu" x1="538" x2="550" transform="rotate(185.9)"/>
<line class="lu" x1="538" x2="550" transform="rotate(184.5)"/>
</g>

<g id="soil-freshwater-clade">
<line x1="240" x2="297" transform="rotate(331)"/>
<circle r="297" pathLength="360" stroke-dasharray="35 999" transform="rotate(310)"/>
<line x1="297" x2="331" transform="rotate(310)"/>
<circle r="331" pathLength="360" stroke-dasharray="13.3 999" transform="rotate(304)"/>
<line x1="331" x2="363" transform="rotate(304)"/>
<circle r="363" pathLength="360" stroke-dasharray="23.3 999" transform="rotate(283)"/>
<circle class="az" r="363" pathLength="360" stroke-dasharray="1.5 999" transform="rotate(306.3)"/>
<line x1="363" x2="404" transform="rotate(283)"/>
<circle r="404" pathLength="360" stroke-dasharray="8.6 999" transform="rotate(278.4)"/>
<line x1="404" x2="450" transform="rotate(278.4)"/>
<circle r="450" pathLength="360" stroke-dasharray="5.65 999" transform="rotate(275.55)"/>
<line x1="450" x2="478" transform="rotate(275.55)"/>
<circle r="478" pathLength="360" stroke-dasharray="1.5 999" transform="rotate(274.8)"/>
<line x1="478" x2="550" transform="rotate(276.3)"/>
<line x1="478" x2="550" transform="rotate(274.8)"/>
<line x1="450" x2="550" transform="rotate(277.8)"/>
<line x1="450" x2="462" transform="rotate(281.2)"/>
<circle r="462" pathLength="360" stroke-dasharray="2.25 999" transform="rotate(280.05)"/>
<line x1="462" x2="475" transform="rotate(280.05)"/>
<circle r="475" pathLength="360" stroke-dasharray="1.5 999" transform="rotate(279.3)"/>
<line x1="475" x2="550" transform="rotate(280.8)"/>
<line x1="475" x2="550" transform="rotate(279.3)"/>
<line x1="462" x2="550" transform="rotate(282.3)"/>
<line x1="404" x2="440" transform="rotate(287)"/>
<circle r="440" pathLength="360" stroke-dasharray="5.25 999" transform="rotate(284.55)"/>
<line x1="440" x2="465" transform="rotate(284.55)"/>
<circle r="465" pathLength="360" stroke-dasharray="1.5 999" transform="rotate(283.8)"/>
<line x1="465" x2="550" transform="rotate(285.3)"/>
<line x1="465" x2="550" transform="rotate(283.8)"/>
<line x1="440" x2="455" transform="rotate(287.55)"/>
<circle r="455" pathLength="360" stroke-dasharray="1.5 999" transform="rotate(286.8)"/>
<line x1="455" x2="550" transform="rotate(288.3)"/>
<line x1="455" x2="550" transform="rotate(286.8)"/>
<line x1="440" x2="550" transform="rotate(289.8)"/>
<line x1="363" x2="385" transform="rotate(297.8)"/>
<circle r="385" pathLength="360" stroke-dasharray="7.3 999" transform="rotate(294.1)"/>
<line x1="385" x2="420" transform="rotate(294.1)"/>
<circle r="420" pathLength="360" stroke-dasharray="4.15 999" transform="rotate(292.05)"/>
<line x1="420" x2="445" transform="rotate(292.05)"/>
<circle r="445" pathLength="360" stroke-dasharray="1.5 999" transform="rotate(291.3)"/>
<line x1="445" x2="550" transform="rotate(292.8)"/>
<line x1="445" x2="550" transform="rotate(291.3)"/>
<line x1="420" x2="432" transform="rotate(296.2)"/>
<circle r="432" pathLength="360" stroke-dasharray="2.25 999" transform="rotate(295.05)"/>
<line x1="432" x2="455" transform="rotate(295.05)"/>
<circle r="455" pathLength="360" stroke-dasharray="1.5 999" transform="rotate(294.3)"/>
<line x1="455" x2="550" transform="rotate(295.8)"/>
<line x1="455" x2="550" transform="rotate(294.3)"/>
<line x1="432" x2="550" transform="rotate(297.3)"/>
<line x1="385" x2="425" transform="rotate(301.4)"/>
<circle r="425" pathLength="360" stroke-dasharray="3.75 999" transform="rotate(299.55)"/>
<line x1="425" x2="440" transform="rotate(299.55)"/>
<circle r="440" pathLength="360" stroke-dasharray="1.5 999" transform="rotate(298.8)"/>
<line x1="440" x2="550" transform="rotate(300.3)"/>
<line x1="440" x2="550" transform="rotate(298.8)"/>
<line x1="425" x2="435" transform="rotate(303.3)"/>
<circle r="435" pathLength="360" stroke-dasharray="3 999" transform="rotate(301.8)"/>
<line x1="435" x2="550" transform="rotate(301.8)"/>
<line x1="435" x2="550" transform="rotate(303.3)"/>
<line x1="435" x2="550" transform="rotate(304.8)"/>
<line class="az" x1="363" x2="550" transform="rotate(306.3)"/>
<line class="az" x1="363" x2="550" transform="rotate(307.8)"/>
<line x1="331" x2="405" transform="rotate(317.3)"/>
<circle r="405" pathLength="360" stroke-dasharray="11.3 999" transform="rotate(311.7)"/>
<line x1="405" x2="440" transform="rotate(311.7)"/>
<circle r="440" pathLength="360" stroke-dasharray="3.35 999" transform="rotate(310.05)"/>
<line x1="440" x2="490" transform="rotate(310.05)"/>
<circle r="490" pathLength="360" stroke-dasharray="1.5 999" transform="rotate(309.3)"/>
<line x1="490" x2="550" transform="rotate(310.8)"/>
<line x1="490" x2="550" transform="rotate(309.3)"/>
<line x1="440" x2="455" transform="rotate(313.4)"/>
<circle r="455" pathLength="360" stroke-dasharray="2.25 999" transform="rotate(312.3)"/>
<line x1="455" x2="550" transform="rotate(312.3)"/>
<line x1="455" x2="470" transform="rotate(314.55)"/>
<circle r="470" pathLength="360" stroke-dasharray="1.5 999" transform="rotate(313.8)"/>
<line x1="470" x2="550" transform="rotate(315.3)"/>
<line x1="470" x2="550" transform="rotate(313.8)"/>
<line x1="405" x2="415" transform="rotate(323)"/>
<circle r="415" pathLength="360" stroke-dasharray="12.35 999" transform="rotate(317.55)"/>
<line x1="415" x2="470" transform="rotate(317.55)"/>
<circle r="470" pathLength="360" stroke-dasharray="1.5 999" transform="rotate(316.8)"/>
<line x1="470" x2="550" transform="rotate(318.3)"/>
<line x1="470" x2="550" transform="rotate(316.8)"/>
<line x1="415" x2="430" transform="rotate(320.55)"/>
<circle r="430" pathLength="360" stroke-dasharray="1.5 999" transform="rotate(319.8)"/>
<line x1="430" x2="550" transform="rotate(321.3)"/>
<line x1="430" x2="550" transform="rotate(319.8)"/>
<line x1="415" x2="420" transform="rotate(325.05)"/>
<circle r="420" pathLength="360" stroke-dasharray="3 999" transform="rotate(323.55)"/>
<line x1="420" x2="430" transform="rotate(323.55)"/>
<circle r="430" pathLength="360" stroke-dasharray="1.5 999" transform="rotate(322.8)"/>
<line x1="430" x2="550" transform="rotate(324.3)"/>
<line x1="430" x2="550" transform="rotate(322.8)"/>
<line x1="420" x2="440" transform="rotate(326.55)"/>
<circle r="440" pathLength="360" stroke-dasharray="1.5 999" transform="rotate(325.8)"/>
<line x1="440" x2="550" transform="rotate(327.3)"/>
<line x1="440" x2="550" transform="rotate(325.8)"/>
<line x1="415" x2="445" transform="rotate(329.9)"/>
<circle r="445" pathLength="360" stroke-dasharray="2.25 999" transform="rotate(328.8)"/>
<line x1="445" x2="550" transform="rotate(328.8)"/>
<line x1="445" x2="470" transform="rotate(331.05)"/>
<circle r="470" pathLength="360" stroke-dasharray="1.5 999" transform="rotate(330.3)"/>
<line x1="470" x2="550" transform="rotate(331.8)"/>
<line x1="470" x2="550" transform="rotate(330.3)"/>
<line x1="297" x2="327" transform="rotate(345)"/>
<circle r="327" pathLength="360" stroke-dasharray="13.1 999" transform="rotate(337.4)"/>
<line x1="327" x2="440" transform="rotate(337.4)"/>
<circle r="440" pathLength="360" stroke-dasharray="6.75 999" transform="rotate(334.05)"/>
<line x1="440" x2="455" transform="rotate(334.05)"/>
<circle r="455" pathLength="360" stroke-dasharray="1.5 999" transform="rotate(333.3)"/>
<line x1="455" x2="550" transform="rotate(334.8)"/>
<line x1="455" x2="550" transform="rotate(333.3)"/>
<line x1="440" x2="450" transform="rotate(337.05)"/>
<circle r="450" pathLength="360" stroke-dasharray="1.5 999" transform="rotate(336.3)"/>
<line x1="450" x2="550" transform="rotate(337.8)"/>
<line x1="450" x2="550" transform="rotate(336.3)"/>
<line x1="440" x2="470" transform="rotate(340.8)"/>
<circle r="470" pathLength="360" stroke-dasharray="3 999" transform="rotate(339.3)"/>
<line x1="470" x2="550" transform="rotate(339.3)"/>
<line x1="470" x2="550" transform="rotate(340.8)"/>
<line x1="470" x2="550" transform="rotate(342.3)"/>
<line x1="327" x2="361" transform="rotate(350.5)"/>
<circle r="361" pathLength="360" stroke-dasharray="9.75 999" transform="rotate(346.05)"/>
<line x1="361" x2="405" transform="rotate(346.05)"/>
<circle r="405" pathLength="360" stroke-dasharray="3 999" transform="rotate(344.55)"/>
<line x1="405" x2="470" transform="rotate(344.55)"/>
<circle r="470" pathLength="360" stroke-dasharray="1.5 999" transform="rotate(343.8)"/>
<line x1="470" x2="550" transform="rotate(345.3)"/>
<line x1="470" x2="550" transform="rotate(343.8)"/>
<line x1="405" x2="420" transform="rotate(347.55)"/>
<circle r="420" pathLength="360" stroke-dasharray="1.5 999" transform="rotate(346.8)"/>
<line x1="420" x2="550" transform="rotate(348.3)"/>
<line x1="420" x2="550" transform="rotate(346.8)"/>
<line x1="361" x2="380" transform="rotate(351.7)"/>
<circle r="380" pathLength="360" stroke-dasharray="2.25 999" transform="rotate(350.55)"/>
<line x1="380" x2="395" transform="rotate(350.55)"/>
<circle r="395" pathLength="360" stroke-dasharray="1.5 999" transform="rotate(349.8)"/>
<line x1="395" x2="550" transform="rotate(351.3)"/>
<line x1="395" x2="550" transform="rotate(349.8)"/>
<line x1="380" x2="550" transform="rotate(352.8)"/>
<line x1="361" x2="550" transform="rotate(354.3)"/>
<line x1="361" x2="550" transform="rotate(355.8)"/>
</g>
</g>
</g>

<g id="clade-labels" transform="translate(588,585)" class="cl">
<text text-anchor="middle"><textPath href="#cw" startOffset="2305">Marine clade</textPath></text>
<text text-anchor="middle"><textPath href="#cw" startOffset="3273">Soil / freshwater clade</textPath></text>
<text text-anchor="middle"><textPath href="#ccw" startOffset="2900">Plant clade</textPath></text>
</g>

<g id="legend">
<text x="1212" y="85" class="hd"><tspan font-weight="bold">Plant-associated taxa</tspan> (PLaBA-db)</text>
<g id="lg-xanthomonas"><rect x="1226" y="121.5" width="54" height="7" fill="#2a7ac3"/><text x="1309" y="137" class="lg">Xanthomonas</text></g>
<g id="lg-lysobacter"><rect x="1226" y="157.5" width="54" height="7" fill="#59c3d2"/><text x="1309" y="173" class="lg">Lysobacter</text></g>
<g id="lg-pseudoxanthomonas"><rect x="1226" y="192.5" width="54" height="7" fill="#34489f"/><text x="1309" y="208" class="lg">Pseudoxanthomonas</text></g>
<g id="lg-luteimonas"><rect x="1226" y="228.5" width="54" height="7" fill="#3b6891"/><text x="1309" y="244" class="lg">Luteimonas</text></g>
<g id="lg-rhodanobacteraceae"><rect x="1226" y="271.5" width="54" height="7" fill="#fcd20b"/><text x="1309" y="287" class="lg">Rhodanobacteraceae</text></g>
<g id="lg-pelomonas"><rect x="1226" y="312.5" width="54" height="7" fill="#e7212a"/><text x="1309" y="328" class="lg">Pelomonas</text></g>
<g id="lg-pseudorhodoferax"><rect x="1226" y="348.5" width="54" height="7" fill="#ec6b9d"/><text x="1309" y="364" class="lg">Pseudorhodoferax</text></g>
<g id="lg-rhizobacter"><rect x="1226" y="387.5" width="54" height="7" fill="#fcbf71"/><text x="1309" y="403" class="lg">Rhizobacter (Burkholderiaceae)</text></g>
<g id="lg-oxalobacteraceae"><rect x="1226" y="427.5" width="54" height="7" fill="#f4882a"/><text x="1309" y="443" class="lg">Oxalobacteraceae</text></g>
<g id="lg-sphaerotilaceae"><rect x="1226" y="472.5" width="54" height="7" fill="#c7b3d8"/><text x="1309" y="488" class="lg">Sphaerotilaceae</text></g>
<g id="lg-azoarcus"><rect x="1226" y="510.5" width="54" height="7" fill="#8e4c9e"/><text x="1309" y="526" class="lg">Azoarcus (Zoogloeaceae)</text></g>
<g id="lg-halomonadaceae"><rect x="1226" y="548.5" width="54" height="7" fill="#2e9c47"/><text x="1309" y="564" class="lg">Halomonadaceae</text></g>
<g id="lg-rhodocyclaceae"><rect x="1226" y="590.5" width="54" height="7" fill="#a9d48a"/><text x="1309" y="606" class="lg">Rhodocyclaceae</text></g>
<g id="lg-pseudomonas"><rect x="1226" y="629.5" width="54" height="7" fill="#8b4a1e"/><text x="1309" y="645" class="lg">Pseudomonas (Pseudomonadaceae)</text></g>
<g id="lg-methylophilaceae"><rect x="1226" y="669.5" width="54" height="7" fill="#c5338f"/><text x="1309" y="685" class="lg">Methylophilaceae</text></g>
<path class="brace" d="M1598,117 C1606,117 1609,121 1609,131 L1609,172 C1609,180 1611,184 1617,184 C1611,184 1609,188 1609,196 L1609,236 C1609,246 1606,250 1598,250"/>
<text x="1620" y="193" class="lg">Xanthomonadaceae</text>
<path class="brace" d="M1598,302 C1606,302 1609,306 1609,314 L1609,325 C1609,331 1611,335 1617,335 C1611,335 1609,339 1609,345 L1609,356 C1609,364 1606,368 1598,368"/>
<text x="1620" y="346" class="lg">Comamonadaceae</text>

<text x="1210" y="750" class="hd" font-weight="bold">Other taxa</text>
<text x="1228" y="795" class="lg">Vibrionales</text>
<text x="1228" y="830" class="lg">Oceanospirillales</text>
<text x="1228" y="866" class="lg">Alteromonadales</text>
<text x="1228" y="900" class="lg">Spirochaetes</text>
<text x="1228" y="937" class="lg">Methylococcales</text>
<text x="1228" y="970" class="lg">Acidobacteria</text>
<text x="1228" y="1003" class="lg">Cyanobacteria</text>
<text x="1228" y="1036" class="lg">Deltaproteobacteria</text>
<text x="1228" y="1069" class="lg">Planctomycetes</text>
<path class="brace" d="M1471,772 C1479,772 1482,776 1482,786 L1482,826 C1482,834 1484,838 1490,838 C1484,838 1482,842 1482,850 L1482,891 C1482,901 1479,905 1471,905"/>
<text x="1495" y="849" class="bk">Marine clade</text>
<path class="brace" d="M1503,877 C1511,877 1514,881 1514,891 L1514,965 C1514,973 1516,977 1522,977 C1516,977 1514,981 1514,989 L1514,1063 C1514,1073 1511,1077 1503,1077"/>
<text x="1528" y="988" class="bk">Soil / freshwater clade</text>
</g>
</svg>
